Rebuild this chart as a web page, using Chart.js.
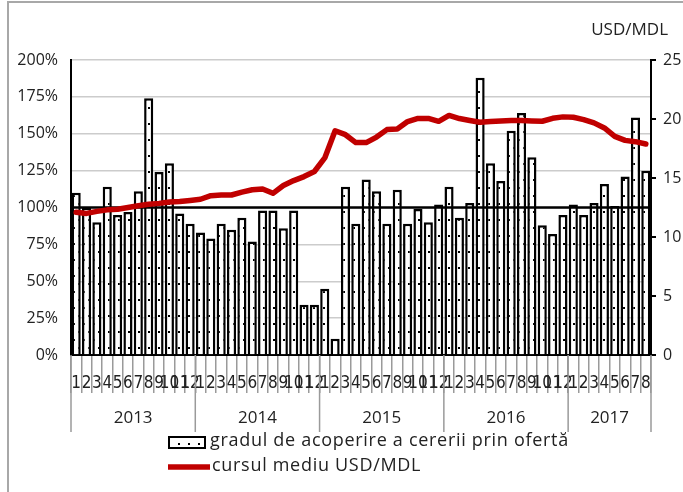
<!DOCTYPE html>
<html><head><meta charset="utf-8">
<script src="https://cdn.jsdelivr.net/npm/chart.js@4"></script>
<style>
html,body{margin:0;padding:0;background:#fff;}
#wrap{position:relative;width:683px;height:492px;overflow:hidden;}
#frame{position:absolute;left:7px;top:1px;width:700px;height:520px;border-left:2px solid #a8a8a8;border-top:2px solid #a8a8a8;}
canvas{position:absolute;left:0;top:0;}
</style></head><body>
<div id="wrap"><div id="frame"></div><canvas id="c" width="683" height="492"></canvas></div>
<script>
const monthLabels = ['1','2','3','4','5','6','7','8','9','10','11','12',
  '1','2','3','4','5','6','7','8','9','10','11','12',
  '1','2','3','4','5','6','7','8','9','10','11','12',
  '1','2','3','4','5','6','7','8','9','10','11','12',
  '1','2','3','4','5','6','7','8'];
const years = ['2013','2014','2015','2016','2017'];
const monthsPerYear = [12,12,12,12,8];
const coverage = [110,100,90,114,95,97,111,174,124,130,96,89,
  83,79,89,85,93,77,98,98,86,98,34,34,
  45,11,114,89,119,111,89,112,89,99,90,102,
  114,93,103,188,130,118,152,164,134,88,82,95,
  102,95,103,116,101,121,161,125];
const usdMdl = [12.1,12.0,12.17,12.3,12.35,12.5,12.65,12.77,12.85,12.97,13.0,13.1,
  13.2,13.5,13.55,13.56,13.8,14.0,14.07,13.7,14.36,14.78,15.12,15.55,
  16.7,19.0,18.67,18.0,18.0,18.47,19.1,19.15,19.78,20.05,20.05,19.8,
  20.3,20.04,19.87,19.72,19.78,19.84,19.87,19.87,19.84,19.81,20.06,20.18,
  20.15,19.95,19.67,19.24,18.53,18.19,18.08,17.88];
const seriesNames = ['gradul de acoperire a cererii prin ofertă','cursul mediu USD/MDL'];
const rightAxisTitle = 'USD/MDL';
const referenceLevel = 100;

const FONT = "'Open Sans', 'DejaVu Sans', sans-serif";
const NARROW = "'Liberation Sans Narrow', 'DejaVu Sans Condensed', sans-serif";

function dotPattern(ctx){
  const p = document.createElement('canvas'); p.width = 10; p.height = 16;
  const g = p.getContext('2d');
  g.fillStyle = '#fff'; g.fillRect(0,0,10,16);
  g.fillStyle = '#000';
  g.fillRect(3,3,2,2); g.fillRect(8,11,2,2);
  return ctx.createPattern(p,'repeat');
}

const canvas = document.getElementById('c');
const ctx = canvas.getContext('2d');
const pattern = dotPattern(ctx);

const refLine = {
  id:'refLine',
  afterDatasetDraw(chart, args){
    if (args.index !== 0) return;
    const y = chart.scales.y.getPixelForValue(referenceLevel);
    const a = chart.chartArea, c = chart.ctx;
    c.save(); c.strokeStyle = '#000'; c.lineWidth = 2.5;
    c.beginPath(); c.moveTo(a.left, y); c.lineTo(a.right, y); c.stroke(); c.restore();
  }
};

const decor = {
  id:'decor',
  afterDraw(chart){
    const c = chart.ctx, x = chart.scales.x, a = chart.chartArea;
    const half = (x.getPixelForValue(1) - x.getPixelForValue(0)) / 2;
    c.save();
    c.strokeStyle = '#9a9a9a'; c.lineWidth = 1.5;
    let start = 0;
    const bounds = [];
    years.forEach((yr, k) => {
      const end = start + monthsPerYear[k] - 1;
      const l = x.getPixelForValue(start) - half;
      const r = x.getPixelForValue(end) + half;
      bounds.push(l); if (k === years.length - 1) bounds.push(r);
      c.fillStyle = '#222'; c.font = "17px " + FONT;
      c.textAlign = 'center'; c.textBaseline = 'middle';
      c.fillText(yr, (l + r) / 2, 418);
      start = end + 1;
    });
    bounds.forEach(b => { c.beginPath(); c.moveTo(b, a.bottom); c.lineTo(b, 432); c.stroke(); });
    c.fillStyle = '#222'; c.font = "17px " + FONT; c.textAlign = 'right'; c.textBaseline = 'middle';
    c.fillText(rightAxisTitle, 668, 30);
    const ds = chart.data.datasets;
    c.textAlign = 'left'; c.font = "18px " + FONT;
    if ('letterSpacing' in c) c.letterSpacing = '0.7px';
    c.fillStyle = pattern; c.fillRect(169, 437, 36, 11);
    c.strokeStyle = '#000'; c.lineWidth = 2; c.strokeRect(169, 437, 36, 11);
    c.fillStyle = '#222'; c.fillText(ds[0].label, 210, 441);
    c.strokeStyle = ds[1].borderColor; c.lineWidth = 5.5; c.lineCap = 'butt';
    c.beginPath(); c.moveTo(168, 467); c.lineTo(210, 467); c.stroke();
    c.fillStyle = '#222'; c.fillText(ds[1].label, 212, 466);
    if ('letterSpacing' in c) c.letterSpacing = '0px';
    c.restore();
  }
};

new Chart(canvas, {
  data: {
    labels: monthLabels,
    datasets: [
      { type:'bar', label: seriesNames[0], data: coverage, yAxisID:'y', order: 2,
        backgroundColor: pattern, borderColor:'#000', borderWidth: 2.5,
        barPercentage: 0.88, categoryPercentage: 1.0 },
      { type:'line', label: seriesNames[1], data: usdMdl, yAxisID:'y2', order: 1,
        borderColor:'#c00000', borderWidth: 5.5, pointRadius: 0, tension: 0,
        borderJoinStyle:'round', borderCapStyle:'round' }
    ]
  },
  options: {
    responsive:false, animation:false,
    layout:{ padding:{ top:60, left:0, right:0, bottom:0 } },
    plugins:{ legend:{display:false}, tooltip:{enabled:false} },
    scales:{
      x:{ position:'bottom', offset:true,
        grid:{ drawOnChartArea:false, drawTicks:true, tickLength:38, color:'#9a9a9a', lineWidth:1.5 },
        border:{ display:true, color:'#000', width:2 },
        ticks:{ autoSkip:false, maxRotation:0, minRotation:0, padding:-20, color:'#222',
          font:{ family: NARROW, size:17 } },
        afterFit(s){ s.height = 137; }
      },
      y:{ position:'left', min:0, max:200,
        ticks:{ stepSize:25, padding:13, color:'#222', font:{ family: FONT, size:16 },
          callback: v => v + '%' },
        grid:{ color:'#cccccc', lineWidth:1.5, drawTicks:false },
        border:{ display:true, color:'#000', width:2 },
        afterFit(s){ s.width = 71; }
      },
      y2:{ position:'right', min:0, max:25,
        ticks:{ stepSize:5, padding:7, color:'#222', font:{ family: FONT, size:16 } },
        grid:{ drawOnChartArea:false, drawTicks:true, tickLength:5, color:'#000', lineWidth:2 },
        border:{ display:true, color:'#000', width:2 },
        afterFit(s){ s.width = 32; }
      }
    }
  },
  plugins:[refLine, decor]
});
</script>
</body></html>
